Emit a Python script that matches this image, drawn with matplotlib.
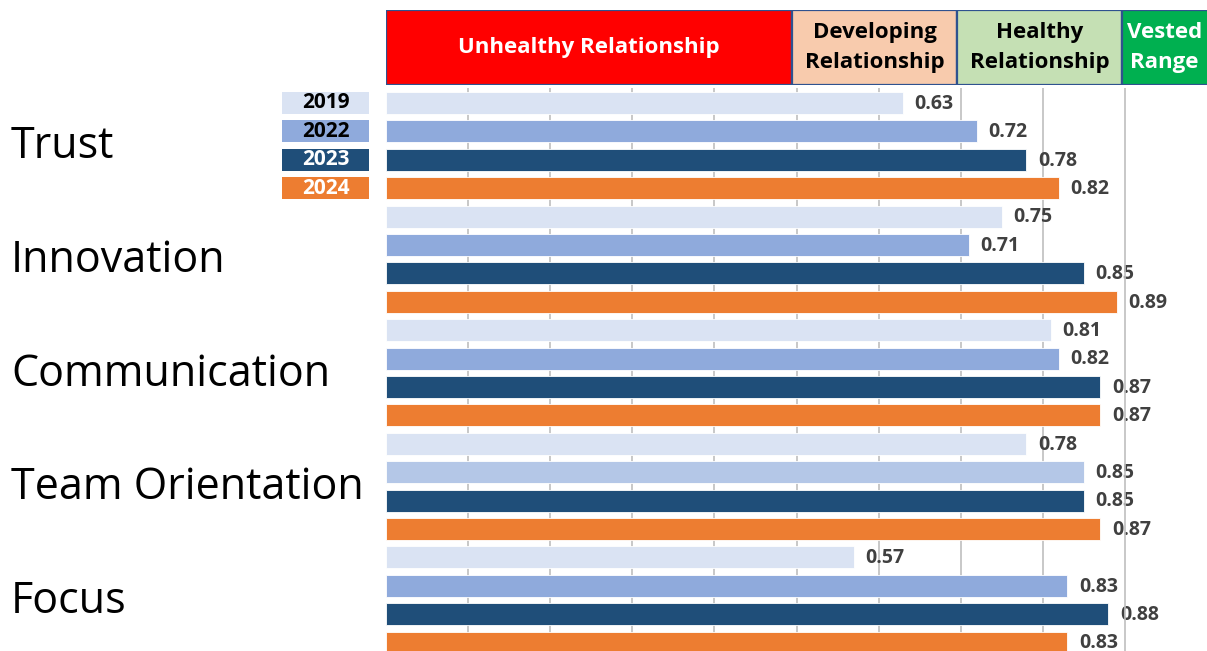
import matplotlib
matplotlib.use("Agg")
import matplotlib.pyplot as plt
from matplotlib.patches import Rectangle

categories = ["Trust", "Innovation", "Communication", "Team Orientation", "Focus"]
years = ["2019", "2022", "2023", "2024"]
values = {
    "2019": [0.63, 0.75, 0.81, 0.78, 0.57],
    "2022": [0.72, 0.71, 0.82, 0.85, 0.83],
    "2023": [0.78, 0.85, 0.87, 0.85, 0.88],
    "2024": [0.82, 0.89, 0.87, 0.87, 0.83],
}
year_colors = {"2019": "#DAE3F3", "2022": "#8FAADC", "2023": "#1F4E79", "2024": "#ED7D31"}
legend_text_colors = {"2019": "black", "2022": "black", "2023": "white", "2024": "white"}
# one bar drawn in a lighter shade in the original
color_override = {("Team Orientation", "2022"): "#B4C7E7"}

bands = ["Unhealthy Relationship", "Developing\nRelationship", "Healthy\nRelationship", "Vested\nRange"]
band_edges = [0.0, 0.495, 0.695, 0.897, 1.05]
band_colors = ["#FF0000", "#F8CBAD", "#C5E0B4", "#00B050"]
band_text_colors = ["white", "black", "black", "white"]

FONT = "Open Sans"
W, H = 1207, 651
fig = plt.figure(figsize=(W / 100, H / 100), dpi=100)

def fx(px):
    return px / W

def fy(py):
    return 1 - py / H

ax_left, ax_right = 386, 1207
ax_top, ax_bot = 88, 651
ax = fig.add_axes([fx(ax_left), fy(ax_bot), fx(ax_right - ax_left), (ax_bot - ax_top) / H])

spacing = 28.4
first_center = 103
ax.set_xlim(0, 1)
ax.set_ylim((ax_bot - first_center) / spacing, -(first_center - ax_top) / spacing)

for gx in [0.1 * k for k in range(1, 10)]:
    ax.axvline(gx, color="#BFBFBF", lw=1.2, zorder=3 if gx > 0.85 else 1)

idx = 0
for ci, cat in enumerate(categories):
    for yr in years:
        v = values[yr][ci]
        col = color_override.get((cat, yr), year_colors[yr])
        ax.barh(idx, v, height=0.78, color=col, edgecolor="white", linewidth=0.6, zorder=2)
        ax.text(v + 0.014, idx + 0.03, f"{v:.2f}", va="center", ha="left", fontsize=14,
                fontweight="bold", color="#404040", family=FONT, zorder=2.5)
        idx += 1

for s in ax.spines.values():
    s.set_visible(False)
ax.set_xticks([])
ax.set_yticks([])

# category labels at group centers
for ci, cat in enumerate(categories):
    yc = first_center + spacing * (ci * 4 + 1.5) + 1.5
    fig.text(fx(11), fy(yc), cat, ha="left", va="center", fontsize=31, family=FONT, color="black")

# legend boxes
for i, yr in enumerate(years):
    yc = first_center + spacing * i
    fig.patches.append(Rectangle((fx(282), fy(yc + 11)), fx(369 - 282), 22 / H,
                                 transform=fig.transFigure, facecolor=year_colors[yr],
                                 edgecolor="none"))
    fig.text(fx(325.5), fy(yc), yr, ha="center", va="center", fontsize=15,
             fontweight="bold", family=FONT, color=legend_text_colors[yr])

# header bands
hax = fig.add_axes([fx(ax_left), fy(85), fx(ax_right - ax_left), 75 / H])
hax.set_xlim(0, 1)
hax.set_ylim(0, 1)
hax.axis("off")
for i, lab in enumerate(bands):
    x0, x1 = band_edges[i], band_edges[i + 1]
    hax.add_patch(Rectangle((x0, 0), x1 - x0, 1, facecolor=band_colors[i],
                            edgecolor="#2F528F", linewidth=1.6, clip_on=True))
    xc = (x0 + min(x1, 1.0)) / 2 if i < 3 else x0 + 0.051
    hax.text(xc, 0.5, lab, ha="center", va="center", fontsize=16, fontweight="bold",
             family=FONT, color=band_text_colors[i], linespacing=1.6)

fig.savefig("out.png", dpi=100)
